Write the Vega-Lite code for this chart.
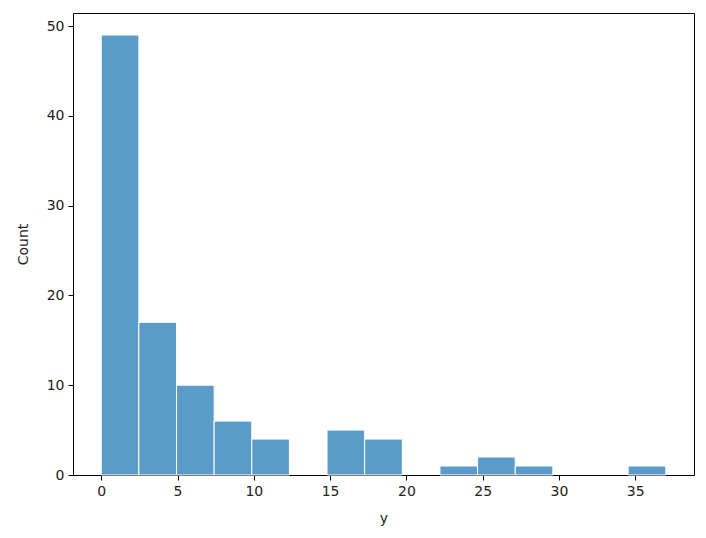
{
  "$schema": "https://vega.github.io/schema/vega-lite/v6.json",
  "autosize": {"type": "none"},
  "padding": {"left": 73, "top": 13, "right": 12, "bottom": 63},
  "width": 621,
  "height": 462,
  "background": "white",
  "config": {
    "view": {"stroke": "black", "strokeWidth": 1},
    "font": "DejaVu Sans",
    "axis": {
      "grid": false,
      "domain": false,
      "tickColor": "black",
      "tickSize": 5,
      "tickWidth": 1,
      "labelFontSize": 14,
      "labelColor": "#222222",
      "labelPadding": 4,
      "titleFontSize": 14,
      "titleFontWeight": "normal",
      "titleColor": "#222222"
    }
  },
  "data": {
    "values": [
      {"bin_start": 0.0, "bin_end": 2.467, "count": 49},
      {"bin_start": 2.467, "bin_end": 4.933, "count": 17},
      {"bin_start": 4.933, "bin_end": 7.4, "count": 10},
      {"bin_start": 7.4, "bin_end": 9.867, "count": 6},
      {"bin_start": 9.867, "bin_end": 12.333, "count": 4},
      {"bin_start": 14.8, "bin_end": 17.267, "count": 5},
      {"bin_start": 17.267, "bin_end": 19.733, "count": 4},
      {"bin_start": 22.2, "bin_end": 24.667, "count": 1},
      {"bin_start": 24.667, "bin_end": 27.133, "count": 2},
      {"bin_start": 27.133, "bin_end": 29.6, "count": 1},
      {"bin_start": 34.533, "bin_end": 37.0, "count": 1}
    ]
  },
  "mark": {"type": "bar", "fill": "#5b9bc9", "stroke": "white", "strokeWidth": 1},
  "encoding": {
    "x": {
      "field": "bin_start",
      "type": "quantitative",
      "title": "y",
      "scale": {"domain": [-1.85, 38.85], "nice": false, "zero": false},
      "axis": {"values": [0, 5, 10, 15, 20, 25, 30, 35], "titlePadding": 13}
    },
    "x2": {"field": "bin_end"},
    "y": {
      "field": "count",
      "type": "quantitative",
      "title": "Count",
      "scale": {"domain": [0, 51.45], "nice": false},
      "axis": {"values": [0, 10, 20, 30, 40, 50], "titlePadding": 16}
    },
    "y2": {"datum": 0}
  }
}
